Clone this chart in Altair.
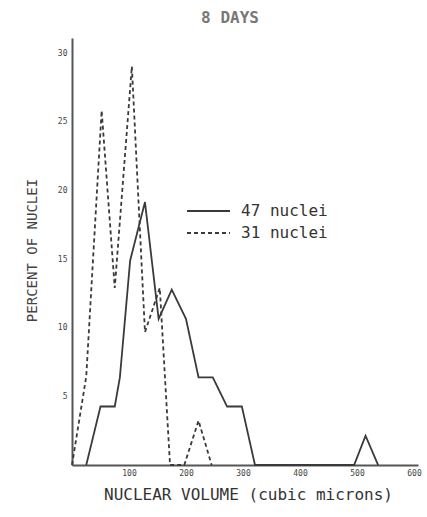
import altair as alt
import pandas as pd

# Nuclear volume distributions at 8 days
series_names = ["47 nuclei", "31 nuclei"]

volume_47 = [25, 50, 75, 84, 102, 128, 152, 175, 200, 222, 247, 272, 298, 321, 495, 515, 537]
percent_47 = [0, 4.26, 4.26, 6.38, 14.89, 19.15, 10.64, 12.77, 10.64, 6.38, 6.38, 4.26, 4.26, 0, 0, 2.13, 0]

volume_31 = [0, 25, 52, 75, 105, 128, 154, 172, 197, 222, 245]
percent_31 = [0, 6.45, 25.81, 12.90, 29.03, 9.68, 12.90, 0, 0, 3.23, 0]

x_ticks = [100, 200, 300, 400, 500, 600]
y_ticks = [5, 10, 15, 20, 25, 30]

rows = []
for i, (v, p) in enumerate(zip(volume_47, percent_47)):
    rows.append({"volume": v, "percent": p, "series": series_names[0], "order": i})
for i, (v, p) in enumerate(zip(volume_31, percent_31)):
    rows.append({"volume": v, "percent": p, "series": series_names[1], "order": i})
df = pd.DataFrame(rows)

MONO = "DejaVu Sans Mono"
INK = "#3a3a3a"

chart = (
    alt.Chart(df)
    .mark_line(strokeWidth=1.8, color=INK)
    .encode(
        x=alt.X(
            "volume:Q",
            scale=alt.Scale(domain=[0, 607], nice=False, zero=True),
            axis=alt.Axis(
                values=x_ticks,
                title="NUCLEAR VOLUME (cubic microns)",
                ticks=False,
                grid=False,
                domainColor="#555555",
                domainWidth=2,
                labelFont=MONO,
                labelFontSize=8,
                labelColor="#444444",
                labelPadding=4,
                titleFont=MONO,
                titleFontSize=16,
                titleFontWeight="normal",
                titleColor="#333333",
                titleX=176,
                titleY=29,
                titleAlign="center",
                titleBaseline="middle",
            ),
        ),
        y=alt.Y(
            "percent:Q",
            scale=alt.Scale(domain=[0, 31.1], nice=False),
            axis=alt.Axis(
                values=y_ticks,
                title="PERCENT OF NUCLEI",
                ticks=False,
                grid=False,
                domainColor="#555555",
                domainWidth=2,
                labelFont=MONO,
                labelFontSize=8,
                labelColor="#444444",
                labelPadding=5,
                titleFont=MONO,
                titleFontSize=14,
                titleFontWeight="normal",
                titleColor="#444444",
                titleX=-40,
                titleY=212,
                titleAngle=270,
                titleAlign="center",
                titleBaseline="middle",
            ),
        ),
        strokeDash=alt.StrokeDash(
            "series:N",
            scale=alt.Scale(domain=series_names, range=[[1, 0], [4, 3]]),
            legend=alt.Legend(
                title=None,
                orient="none",
                legendX=114,
                legendY=162,
                symbolType="stroke",
                symbolSize=1850,
                symbolStrokeWidth=1.8,
                symbolStrokeColor=INK,
                labelFont=MONO,
                labelFontSize=16,
                labelColor="#333333",
                labelOffset=10,
                clipHeight=22,
                rowPadding=0,
            ),
        ),
        order="order:Q",
    )
    .properties(
        width=346,
        height=427,
        autosize="none",
        padding={"left": 72, "top": 38, "right": 9, "bottom": 52},
        title=alt.Title(
            "8 DAYS",
            font=MONO,
            fontSize=16,
            fontWeight="bold",
            color="#777777",
            anchor="middle",
            frame="group",
            dx=-15,
            offset=12,
        ),
    )
    .configure_view(stroke=None)
)

chart.save("out.html", embed_options={"renderer": "svg", "actions": False})
